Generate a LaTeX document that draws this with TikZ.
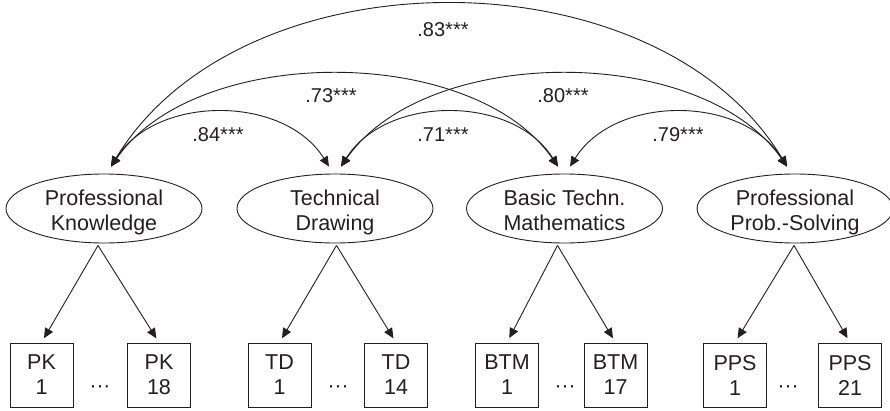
\documentclass[tikz,border=0pt]{standalone}
\usepackage{fontspec}
\setmainfont{Liberation Sans}
\usetikzlibrary{arrows.meta,shapes.geometric}
\definecolor{ink}{HTML}{231F20}
\begin{document}
\begin{tikzpicture}[x=1pt,y=1pt,color=ink,
  lat/.style={draw, ellipse, minimum width=196pt, minimum height=69pt, inner sep=0pt, align=center, font=\fontsize{21.5}{25}\selectfont, line width=0.9pt, text height=43pt, text depth=0pt},
  ind/.style={draw, rectangle, minimum width=63pt, minimum height=64pt, inner sep=0pt, align=center, font=\fontsize{21.5}{25}\selectfont, line width=0.9pt},
  tip/.tip={Triangle[length=10pt,width=9pt]},
  cor/.style={line width=0.9pt, tip-tip},
  load/.style={line width=0.9pt, -tip, shorten >=5pt},
  lbl/.style={anchor=base, font=\fontsize{20}{24}\selectfont},
  dotsn/.style={anchor=base, font=\fontsize{21}{24}\selectfont, inner sep=0pt}]
\useasboundingbox (0,0) rectangle (890,410);

% latent factors
\node[lat] (PK)  at (104,201.5)   {Professional\\Knowledge};
\node[lat] (TD)  at (335,201.5)   {Technical\\Drawing};
\node[lat] (BTM) at (564.5,201.5) {Basic Techn.\\Mathematics};
\node[lat] (PPS) at (795,201.5)   {Professional\\Prob.-Solving};

% indicators
\node[ind] (PK1)   at (41.5,35)  {PK\\1};
\node[ind] (PK18)  at (159,35)   {PK\\18};
\node[ind] (TD1)   at (279.5,35) {TD\\1};
\node[ind] (TD14)  at (396,35)   {TD\\14};
\node[ind] (BTM1)  at (507,35)   {BTM\\1};
\node[ind] (BTM17) at (615.5,35) {BTM\\17};
\node[ind] (PPS1)  at (735,35)   {PPS\\1};
\node[ind] (PPS21) at (850,35)   {PPS\\21};

\node[dotsn] (d1) at (100,18) {···};
\node[dotsn] (d2) at (338,18) {···};
\node[dotsn] (d3) at (565,18) {···};
\node[dotsn] (d4) at (788,18) {···};

% anchor points on the factors
\coordinate (PKt)  at ([xshift=7pt,yshift=7pt]PK.north);
\coordinate (TDl)  at ([xshift=-6pt,yshift=7pt]TD.north);
\coordinate (TDr)  at ([xshift=6pt,yshift=7pt]TD.north);
\coordinate (BTMl) at ([xshift=-6.5pt,yshift=7pt]BTM.north);
\coordinate (BTMr) at ([xshift=5.5pt,yshift=7pt]BTM.north);
\coordinate (PPSt) at ([xshift=-8pt,yshift=7pt]PPS.north);

\coordinate (PKb)  at ([xshift=-6pt,yshift=-2pt]PK.south);
\coordinate (TDb)  at ([xshift=1.5pt,yshift=-2pt]TD.south);
\coordinate (BTMb) at ([xshift=-7pt,yshift=-2pt]BTM.south);
\coordinate (PPSb) at ([xshift=-1pt,yshift=-2pt]PPS.south);

% loadings
\draw[load] (PKb) -- (PK1.north);
\draw[load] (PKb) -- (PK18.north);
\draw[load] (TDb) -- (TD1.north);
\draw[load] (TDb) -- (TD14.north);
\draw[load] (BTMb) -- (BTM1.north);
\draw[load] (BTMb) -- (BTM17.north);
\draw[load] (PPSb) -- (PPS1.north);
\draw[load] (PPSb) -- (PPS21.north);

% correlations
\draw[cor] (PKt) .. controls +(45,72) and +(-45,72) .. (TDl);
\draw[cor] (PKt) .. controls +(85,123) and +(-85,123) .. (BTMl);
\draw[cor] (PKt) .. controls +(130,216) and +(-130,216) .. (PPSt);
\draw[cor] (TDr) .. controls +(45,72) and +(-45,72) .. (BTMl);
\draw[cor] (TDr) .. controls +(85,123) and +(-85,123) .. (PPSt);
\draw[cor] (BTMr) .. controls +(45,72) and +(-45,72) .. (PPSt);

\node[lbl] (l84) at (218,268) {.84***};
\node[lbl] (l73) at (331,307) {.73***};
\node[lbl] (l83) at (443,373) {.83***};
\node[lbl] (l71) at (443,268) {.71***};
\node[lbl] (l80) at (563,307) {.80***};
\node[lbl] (l79) at (678,268) {.79***};
\end{tikzpicture}
\end{document}
